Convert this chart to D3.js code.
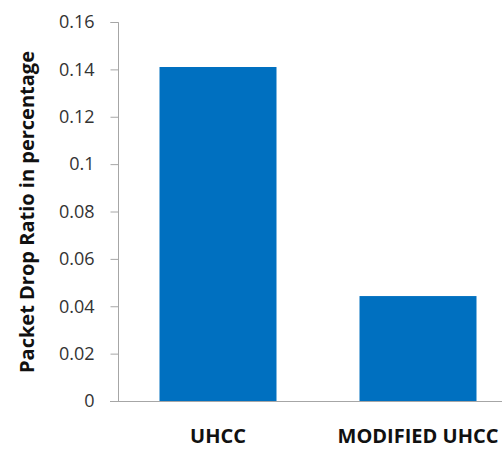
<!DOCTYPE html>
<html><head><meta charset="utf-8">
<script src="https://cdn.jsdelivr.net/npm/d3@7/dist/d3.min.js"></script>
<style>body{margin:0;background:#fff;}svg{display:block;}</style>
</head><body>
<svg id="c" width="502" height="449"></svg>
<script>
const categories = ["UHCC", "MODIFIED UHCC"];
const values = [0.141, 0.0443];
const yTicks = [0, 0.02, 0.04, 0.06, 0.08, 0.1, 0.12, 0.14, 0.16];
const yTickLabels = ["0", "0.02", "0.04", "0.06", "0.08", "0.1", "0.12", "0.14", "0.16"];
const yTitle = "Packet Drop Ratio in percentage";

const svg = d3.select("#c");
const font = "'Open Sans', 'Noto Sans', sans-serif";
const x = d3.scaleBand().domain(categories).range([118, 518]).paddingInner(0.415).paddingOuter(0.2075);
const y = d3.scaleLinear().domain([0, 0.16]).range([401, 22]);

svg.selectAll("rect.bar").data(values).join("rect")
  .attr("class", "bar")
  .attr("x", (d, i) => x(categories[i]))
  .attr("width", x.bandwidth())
  .attr("y", d => y(d))
  .attr("height", d => y(0) - y(d))
  .attr("fill", "#0070C0");

const ya = svg.append("g").attr("transform", "translate(118.5,0)")
  .call(d3.axisLeft(y).tickValues(yTicks).tickFormat((d, i) => yTickLabels[i]).tickSize(8).tickPadding(16));
ya.select(".domain").attr("stroke", "#a6a6a6").attr("d", `M-8,${y(0.16)+0.5}H0V${y(0)+0.5}`);
ya.selectAll(".tick line").attr("stroke", "#a6a6a6");
ya.selectAll(".tick text").attr("font-family", font).attr("font-size", 18).attr("fill", "#333");

svg.append("line").attr("x1", 110).attr("x2", 502).attr("y1", y(0) + 0.5).attr("y2", y(0) + 0.5)
  .attr("stroke", "#a6a6a6");

svg.selectAll("text.cat").data(categories).join("text")
  .attr("class", "cat")
  .attr("x", d => x(d) + x.bandwidth() / 2)
  .attr("y", 443)
  .attr("text-anchor", "middle")
  .attr("font-family", font).attr("font-size", 20).attr("font-weight", "bold").attr("fill", "#111")
  .text(d => d);

svg.append("text")
  .attr("transform", "translate(34,212) rotate(-90)")
  .attr("text-anchor", "middle")
  .attr("font-family", font).attr("font-size", 20).attr("font-weight", "bold").attr("fill", "#111")
  .text(yTitle);
</script>
</body></html>
